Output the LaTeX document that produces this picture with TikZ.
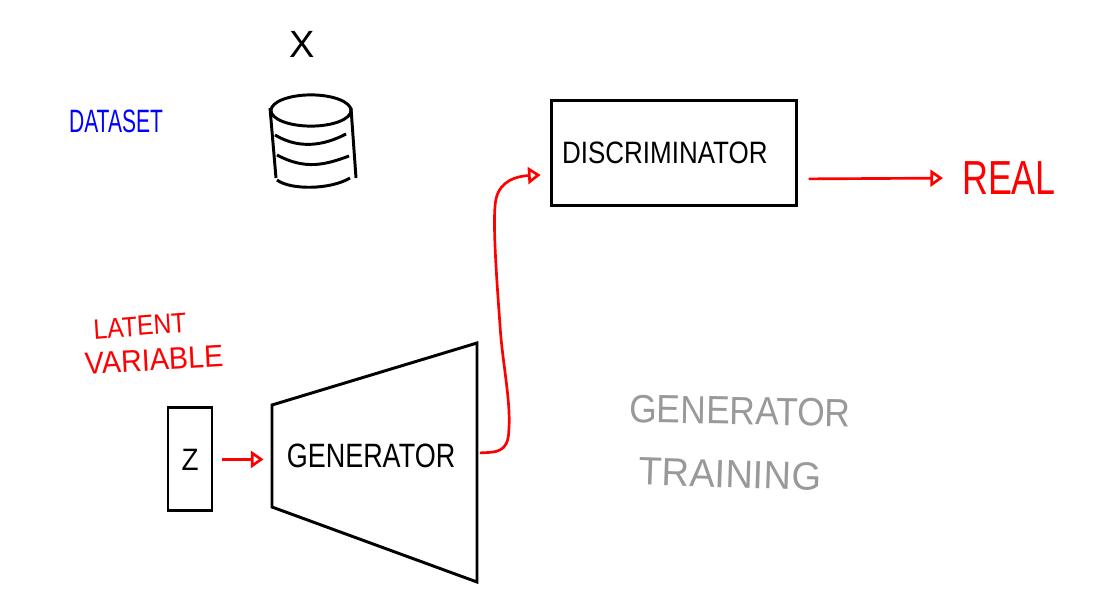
\documentclass[tikz,border=0pt]{standalone}
\usepackage{fontspec}
\setmainfont{Liberation Sans}
\usepackage{graphicx}
\usepackage{tikz}
\usetikzlibrary{arrows.meta}
\usetikzlibrary{calc}

\begin{document}
\begin{tikzpicture}[
    pen/.style={
      draw=black,
      line width=2.1pt
    },
    flow/.style={
      draw=red,
      line width=1.9pt,
      -{Triangle[open, length=9pt, width=12pt, line width=1.9pt]}
    },
    block/.style={
      draw=black,
      line width=2.1pt,
      inner sep=0pt,
      rectangle
    },
    hand/.style 2 args={
      inner sep=0pt,
      font=\fontsize{#1}{#1}\selectfont,
      xscale=#2,
      transform shape
    }
  ]
  \useasboundingbox (0,0) rectangle (27.6,15.025);

  % dataset
  \node[hand={23pt}{.65}, text=blue] (dataset) at (2.9,12.0) {DATASET};
  \node[hand={27pt}{1}] (xlabel) at (7.55,13.925) {X};

  \draw[pen] (7.775,12.2625) ellipse (1cm and 0.39cm);
  \draw[pen] (6.75,12.325) -- (6.9,10.575);
  \draw[pen] (8.775,12.325) -- (8.9,10.575);
  \draw[pen] (6.875,11.65) .. controls (7.5,11.275) and (8.125,11.4) .. (8.65,11.675);
  \draw[pen] (6.925,11.15) .. controls (7.625,10.775) and (8.125,10.9) .. (8.725,11.125);
  \draw[pen] (6.925,10.525) .. controls (7.25,10.275) and (8.25,10.275) .. (8.75,10.575);

  % latent variable
  \node[hand={20pt}{.88}, text=red, rotate=4] (latent) at (3.5,6.875) {LATENT};
  \node[hand={22pt}{.93}, text=red, rotate=3] (variable) at (3.85,6.025) {VARIABLE};
  \node[block, minimum width=1.1cm, minimum height=2.575cm] (z) at (4.75,3.54) {\fontsize{22pt}{22pt}\selectfont\scalebox{.9}[1]{Z}};

  % generator
  \coordinate (g1) at (6.8,4.9);
  \coordinate (g2) at (11.925,6.45);
  \coordinate (g3) at (11.925,0.475);
  \coordinate (g4) at (6.8,2.35);
  \coordinate (gin) at (6.8,3.54);
  \coordinate (gout) at (11.925,3.7);
  \draw[pen] (g1) -- (g2) -- (g3) -- (g4) -- cycle;
  \node[hand={24pt}{.8}] (generator) at (9.275,3.625) {GENERATOR};

  % discriminator
  \node[block, minimum width=6.125cm, minimum height=2.625cm, text width=5.575cm, align=left] (discriminator) at (16.84,11.21) {\fontsize{22pt}{22pt}\selectfont\scalebox{.84}[1]{DISCRIMINATOR}};
  \node[hand={34pt}{.75}, text=red] (real) at (25.225,10.575) {REAL};

  \node[hand={28pt}{.9}, text=black!40, rotate=-1] (gtitle) at (18.5,4.75) {GENERATOR};
  \node[hand={28pt}{.97}, text=black!40, rotate=-2] (ttitle) at (18.25,3.175) {TRAINING};

  \draw[flow, shorten <=6pt, shorten >=6pt] (z.east) -- (gin);
  \draw[flow, shorten <=2pt, shorten >=6.4pt] (gout) .. controls (12.4,3.72) and (12.7,3.7) .. (12.72,4.25)
    .. controls (12.78,5) and (12.55,6) .. (12.5,6.9)
    .. controls (12.42,8) and (12.3,9.6) .. (12.4,10.05)
    .. controls (12.5,10.5) and (12.9,10.62) .. (discriminator.190.6);
  \draw[flow, shorten <=7.8pt, shorten >=13.5pt] (discriminator.-12.5) -- (real.west);
\end{tikzpicture}
\end{document}
